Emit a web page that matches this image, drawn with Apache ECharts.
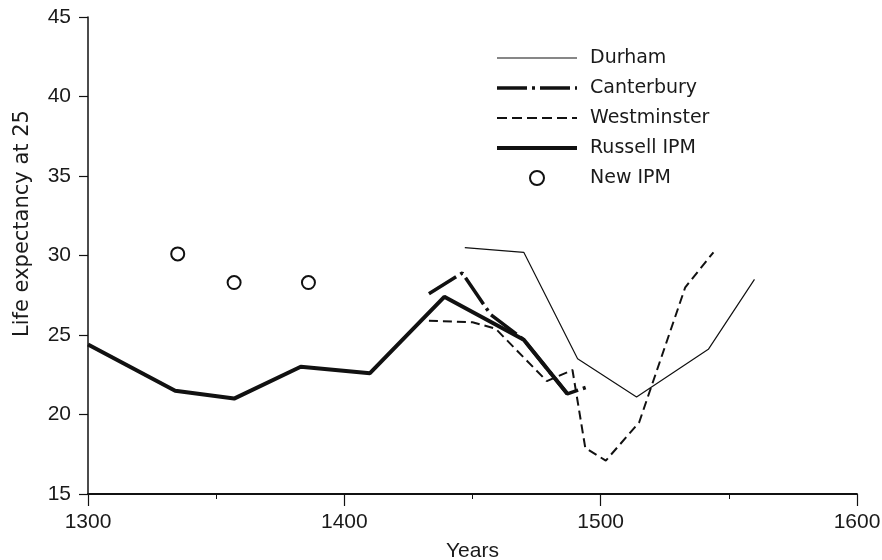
<!DOCTYPE html>
<html>
<head>
<meta charset="utf-8">
<script src="https://cdn.jsdelivr.net/npm/echarts@6/dist/echarts.min.js"></script>
<style>
  html, body { margin: 0; padding: 0; background: #fff; }
  #chart { width: 882px; height: 560px; }
</style>
</head>
<body>
<div id="chart"></div>
<script>
// values
var durhamYears = [1447, 1470, 1491, 1514, 1542, 1560];
var durhamLE = [30.5, 30.2, 23.5, 21.1, 24.1, 28.5];

var canterburyYears = [1433, 1446, 1457, 1470, 1487, 1496];
var canterburyLE = [27.6, 28.9, 26.3, 24.7, 21.3, 21.8];

var westminsterYears = [1433, 1450, 1459, 1479, 1489, 1494, 1502, 1515, 1533, 1544];
var westminsterLE = [25.9, 25.8, 25.4, 22.1, 22.8, 17.9, 17.1, 19.5, 28.0, 30.2];

var russellYears = [1300, 1334, 1357, 1383, 1410, 1439, 1470, 1487];
var russellLE = [24.4, 21.5, 21.0, 23.0, 22.6, 27.4, 24.7, 21.3];

var newIpmYears = [1335, 1357, 1386];
var newIpmLE = [30.1, 28.3, 28.3];

var xTicks = [1300, 1400, 1500, 1600];
var yTicks = [15, 20, 25, 30, 35, 40, 45];

function pairs (xs, ys) {
  return xs.map(function (x, i) { return [x, ys[i]]; });
}

var ink = '#111';
var txt = '#1a1a1a';
var font = 'DejaVu Sans';
var tickFont = 'Liberation Sans';
var noDot = { color: 'rgba(0,0,0,0)', borderColor: 'rgba(0,0,0,0)', borderWidth: 0 };

var styles = {
  durham: { color: ink, width: 1.2, type: 'solid' },
  canterbury: { color: ink, width: 3.5, type: [32, 5, 3, 5] },
  westminster: { color: ink, width: 2, type: [9, 5] },
  russell: { color: ink, width: 4, type: 'solid' }
};

var chart = echarts.init(document.getElementById('chart'), null, { renderer: 'canvas' });

var option = {
  animation: false,
  backgroundColor: '#fff',
  grid: { left: 88, right: 25, top: 17, bottom: 66, containLabel: false, outerBoundsMode: 'none' },
  legend: {
    orient: 'vertical',
    left: 495,
    top: 47,
    padding: 0,
    itemWidth: 80,
    itemHeight: 14,
    itemGap: 8,
    textStyle: { fontFamily: font, fontSize: 19, color: txt, lineHeight: 22, padding: [0, 0, 0, 8] },
    data: [
      { name: 'Durham', lineStyle: styles.durham, itemStyle: noDot },
      { name: 'Canterbury', lineStyle: { color: ink, width: 3.5, type: [30, 5, 3, 5] }, itemStyle: noDot },
      { name: 'Westminster', lineStyle: { color: ink, width: 2, type: [10, 5] }, itemStyle: noDot },
      { name: 'Russell IPM', lineStyle: styles.russell, itemStyle: noDot },
      { name: 'New IPM' }
    ]
  },
  xAxis: {
    type: 'value',
    min: xTicks[0],
    max: xTicks[xTicks.length - 1],
    interval: 100,
    name: 'Years',
    nameLocation: 'middle',
    nameGap: 47,
    nameTextStyle: { fontFamily: tickFont, fontSize: 21, color: txt },
    axisLine: { lineStyle: { color: ink, width: 1.8 } },
    axisTick: { length: 12, lineStyle: { color: ink, width: 1.2 } },
    minorTick: { show: true, splitNumber: 2, length: 5, lineStyle: { color: ink, width: 1 } },
    axisLabel: { margin: 18, fontFamily: tickFont, fontSize: 21, color: txt, formatter: function (v) { return String(v); } },
    splitLine: { show: false }
  },
  yAxis: {
    type: 'value',
    min: yTicks[0],
    max: yTicks[yTicks.length - 1],
    interval: 5,
    name: 'Life expectancy at 25',
    nameLocation: 'middle',
    nameGap: 55,
    nameTextStyle: { fontFamily: font, fontSize: 21, color: txt, padding: [0, 0, 0, 64] },
    axisLine: { show: true, lineStyle: { color: ink, width: 1.5 } },
    axisTick: { show: true, length: 9, lineStyle: { color: ink, width: 1.2 } },
    axisLabel: { margin: 17, fontFamily: tickFont, fontSize: 21, color: txt },
    splitLine: { show: false }
  },
  series: [
    {
      name: 'Durham',
      type: 'line',
      data: pairs(durhamYears, durhamLE),
      symbol: 'none',
      lineStyle: styles.durham,
      itemStyle: { color: ink }
    },
    {
      name: 'Canterbury',
      type: 'line',
      data: pairs(canterburyYears, canterburyLE),
      symbol: 'none',
      lineStyle: styles.canterbury,
      itemStyle: { color: ink }
    },
    {
      name: 'Westminster',
      type: 'line',
      data: pairs(westminsterYears, westminsterLE),
      symbol: 'none',
      lineStyle: styles.westminster,
      itemStyle: { color: ink }
    },
    {
      name: 'Russell IPM',
      type: 'line',
      data: pairs(russellYears, russellLE),
      symbol: 'none',
      lineStyle: styles.russell,
      itemStyle: { color: ink }
    },
    {
      name: 'New IPM',
      type: 'scatter',
      data: pairs(newIpmYears, newIpmLE),
      symbol: 'emptyCircle',
      symbolSize: 13,
      itemStyle: { color: ink, borderColor: ink, borderWidth: 1.8, opacity: 1 }
    }
  ]
};

chart.setOption(option);
</script>
</body>
</html>
